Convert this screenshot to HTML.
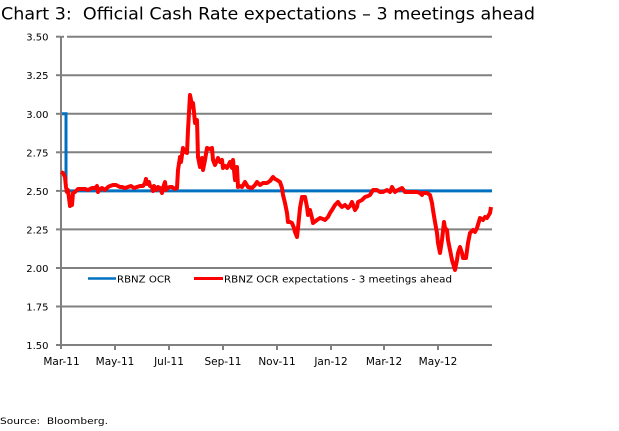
<!DOCTYPE html>
<html>
<head>
<meta charset="utf-8">
<style>
  html, body { margin:0; padding:0; background:#ffffff; }
  svg { display:block; }
  text { font-family: "DejaVu Sans", "Liberation Sans", sans-serif; fill:#000; }
</style>
</head>
<body>
<svg width="619" height="431" viewBox="0 0 619 431" xmlns="http://www.w3.org/2000/svg">
  <rect x="0" y="0" width="619" height="431" fill="#ffffff"/>

  <!-- Title -->
  <text x="1" y="19.5" font-size="17" textLength="534" lengthAdjust="spacingAndGlyphs" xml:space="preserve">Chart 3:  Official Cash Rate expectations – 3 meetings ahead</text>

  <!-- Gridlines -->
  <g stroke="#808080" stroke-width="2">
    <line x1="62" y1="36.7" x2="492" y2="36.7"/>
    <line x1="62" y1="75.2" x2="492" y2="75.2"/>
    <line x1="62" y1="113.8" x2="492" y2="113.8"/>
    <line x1="62" y1="152.3" x2="492" y2="152.3"/>
    <line x1="62" y1="190.9" x2="492" y2="190.9"/>
    <line x1="62" y1="229.4" x2="492" y2="229.4"/>
    <line x1="62" y1="268" x2="492" y2="268"/>
    <line x1="62" y1="306.5" x2="492" y2="306.5"/>
    <line x1="62" y1="345" x2="492" y2="345"/>
  </g>
  <!-- small gaps in gridlines -->
  <g stroke="#ffffff" stroke-width="3">
    <line x1="65.5" y1="34" x2="65.5" y2="39"/>
  </g>

  <!-- Y axis -->
  <g stroke="#808080" stroke-width="2">
    <line x1="61" y1="36" x2="61" y2="349"/>
    <line x1="56" y1="36.7" x2="61" y2="36.7"/>
    <line x1="56" y1="75.2" x2="61" y2="75.2"/>
    <line x1="56" y1="113.8" x2="61" y2="113.8"/>
    <line x1="56" y1="152.3" x2="61" y2="152.3"/>
    <line x1="56" y1="190.9" x2="61" y2="190.9"/>
    <line x1="56" y1="229.4" x2="61" y2="229.4"/>
    <line x1="56" y1="268" x2="61" y2="268"/>
    <line x1="56" y1="306.5" x2="61" y2="306.5"/>
    <line x1="56" y1="345" x2="61" y2="345"/>
    <!-- x ticks -->
    <line x1="115" y1="345" x2="115" y2="350"/>
    <line x1="169" y1="345" x2="169" y2="350"/>
    <line x1="223" y1="345" x2="223" y2="350"/>
    <line x1="277" y1="345" x2="277" y2="350"/>
    <line x1="331" y1="345" x2="331" y2="350"/>
    <line x1="384" y1="345" x2="384" y2="350"/>
    <line x1="438" y1="345" x2="438" y2="350"/>
  </g>

  <!-- Y labels -->
  <g font-size="10" text-anchor="end">
    <text x="48.5" y="40.7">3.50</text>
    <text x="48.5" y="79.2">3.25</text>
    <text x="48.5" y="117.8">3.00</text>
    <text x="48.5" y="156.3">2.75</text>
    <text x="48.5" y="194.9">2.50</text>
    <text x="48.5" y="233.4">2.25</text>
    <text x="48.5" y="272">2.00</text>
    <text x="48.5" y="310.5">1.75</text>
    <text x="48.5" y="349">1.50</text>
  </g>

  <!-- X labels -->
  <g font-size="10.5" text-anchor="middle">
    <text x="61.5" y="365">Mar-11</text>
    <text x="115" y="365">May-11</text>
    <text x="169" y="365">Jul-11</text>
    <text x="223" y="365">Sep-11</text>
    <text x="277" y="365">Nov-11</text>
    <text x="331" y="365">Jan-12</text>
    <text x="384" y="365">Mar-12</text>
    <text x="438" y="365">May-12</text>
  </g>

  <!-- Blue OCR series -->
  <polyline fill="none" stroke="#0070C0" stroke-width="3" stroke-linejoin="miter"
    points="62,113.8 66,113.8 66,190.9 492,190.9"/>

  <!-- Red expectations series -->
  <polyline fill="none" stroke="#FF0000" stroke-width="4" stroke-linejoin="round"
    points="61,172 63,173 65,177 66,187 67,192 68,190 69,198 70,206 71,200 72,205 73,193 75,192 78,189 85,189 88,190 92,188 95,188 97,186 98,192 100,189 102,188 105,190 108,187 110,186 113,185 116,185 118,186 120,187 122,187 125,188 128,187 131,186 134,188 137,187 140,186 143,186 145,183 146,179 147,184 149,182 150,186 152,187 153,191 154,186 156,190 158,187 160,188 162,193 163,188 165,182 166,190 167,188 170,187 172,187 175,189 177,188 178,170 180,157 181,162 183,148 185,152 187,153 188,130 190,95 191,100 192,107 193,103 194,112 195,123 197,120 198,157 200,167 202,158 203,170 205,160 207,148 210,149 212,148 213,160 215,165 218,158 220,162 222,160 223,168 225,166 227,168 230,162 232,168 233,160 235,180 237,167 238,187 240,186 242,187 245,182 248,187 252,188 255,185 257,182 260,185 263,183 267,183 270,181 273,177 275,179 277,180 280,182 282,188 283,195 285,203 287,213 288,222 290,222 292,223 294,228 295,232 297,237 298,228 300,208 302,197 305,197 307,207 308,215 310,210 312,218 313,223 317,220 320,218 323,219 325,220 328,217 330,213 332,210 335,205 338,202 340,205 342,207 345,205 348,208 350,206 352,202 355,210 357,207 358,202 360,201 362,200 365,197 368,196 370,195 373,190 377,190 380,192 383,192 387,190 390,192 392,187 395,192 398,190 402,188 405,192 410,192 417,192 420,193 422,195 423,193 427,193 430,195 432,203 433,210 435,222 437,233 438,243 440,253 442,240 444,222 445,228 447,230 448,240 450,250 452,260 455,270 457,260 458,253 460,247 462,253 463,258 466,258 468,243 470,233 473,230 475,232 477,228 480,218 483,220 485,217 487,218 490,213 491,207"/>

  <!-- Legend -->
  <line x1="88" y1="278.5" x2="116" y2="278.5" stroke="#0070C0" stroke-width="2.5"/>
  <text x="117" y="282.5" font-size="10" textLength="54" lengthAdjust="spacingAndGlyphs">RBNZ OCR</text>
  <line x1="194" y1="278.5" x2="223" y2="278.5" stroke="#FF0000" stroke-width="3"/>
  <text x="224" y="282.5" font-size="10" textLength="228" lengthAdjust="spacingAndGlyphs">RBNZ OCR expectations - 3 meetings ahead</text>

  <!-- Source -->
  <text x="0" y="424" font-size="9" textLength="108" lengthAdjust="spacingAndGlyphs" xml:space="preserve">Source:  Bloomberg.</text>
</svg>
</body>
</html>
